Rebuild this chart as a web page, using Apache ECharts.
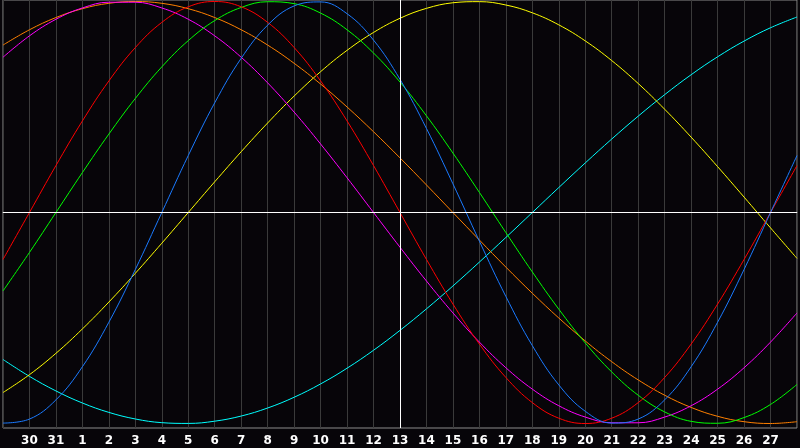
<!DOCTYPE html>
<html>
<head>
<meta charset="utf-8">
<script src="https://cdn.jsdelivr.net/npm/echarts@6/dist/echarts.min.js"></script>
<style>
html,body{margin:0;padding:0;background:#070509;}
#chart{width:800px;height:448px;}
</style>
</head>
<body>
<div id="chart"></div>
<script>
var dayLabels = ["29","30","31","1","2","3","4","5","6","7","8","9","10","11","12","13","14","15","16","17","18","19","20","21","22","23","24","25","26","27","28"];
var todayIndex = 15;

var physical = [-0.998,-0.979,-0.888,-0.731,-0.520,-0.270,0,0.270,0.520,0.731,0.888,0.979,0.998,0.942,0.817,0.631,0.398,0.136,-0.136,-0.398,-0.631,-0.817,-0.942,-0.998,-0.979,-0.888,-0.731,-0.520,-0.270,0,0.270];
var emotional = [-0.2225,0,0.2225,0.4339,0.6235,0.7818,0.9010,0.9749,1,0.9749,0.9010,0.7818,0.6235,0.4339,0.2225,0,-0.2225,-0.4339,-0.6235,-0.7818,-0.9010,-0.9749,-1,-0.9749,-0.9010,-0.7818,-0.6235,-0.4339,-0.2225,0,0.2225];
var intellectual = [-0.3717,-0.1893,0,0.1893,0.3717,0.5406,0.6901,0.8146,0.9096,0.9718,0.9989,0.9898,0.9450,0.8660,0.7557,0.6182,0.4582,0.2817,0.0951,-0.0951,-0.2817,-0.4582,-0.6182,-0.7557,-0.8660,-0.9450,-0.9898,-0.9989,-0.9718,-0.9096,-0.8146];
var intuitive = [0.7357,0.8372,0.9158,0.9694,0.9966,0.9966,0.9694,0.9158,0.8372,0.7357,0.6142,0.4759,0.3247,0.1646,0,-0.1646,-0.3247,-0.4759,-0.6142,-0.7357,-0.8372,-0.9158,-0.9694,-0.9966,-0.9966,-0.9694,-0.9158,-0.8372,-0.7357,-0.6142,-0.4759];
var aesthetic = [-0.8533,-0.7686,-0.6674,-0.5518,-0.4244,-0.2881,-0.1456,0,0.1456,0.2881,0.4244,0.5518,0.6674,0.7686,0.8533,0.9204,0.9675,0.9940,0.9993,0.9834,0.9464,0.8893,0.8133,0.7200,0.6113,0.4894,0.3572,0.2174,0.0730,-0.0730,-0.2174];
var awareness = [0.7934,0.8660,0.9239,0.9659,0.9914,1,0.9914,0.9659,0.9239,0.8660,0.7934,0.7071,0.6088,0.5,0.3827,0.2588,0.1305,0,-0.1305,-0.2588,-0.3827,-0.5,-0.6088,-0.7071,-0.7934,-0.8660,-0.9239,-0.9659,-0.9914,-1,-0.9914];
var spiritual = [-0.6965,-0.7766,-0.8456,-0.9028,-0.9473,-0.9786,-0.9960,-0.9996,-0.9890,-0.9646,-0.9265,-0.8756,-0.8124,-0.7379,-0.6529,-0.5585,-0.4566,-0.3482,-0.2349,-0.1183,0,0.1183,0.2349,0.3482,0.4566,0.5585,0.6529,0.7379,0.8124,0.8756,0.9265];

var seriesDefs = [
  {name:"Spiritual", data:spiritual, color:"#00ffff"},
  {name:"Aesthetic", data:aesthetic, color:"#ffff00"},
  {name:"Awareness", data:awareness, color:"#ff8000"},
  {name:"Intuitive", data:intuitive, color:"#ff00ff"},
  {name:"Intellectual", data:intellectual, color:"#00ff00"},
  {name:"Emotional", data:emotional, color:"#ff0000"},
  {name:"Physical", data:physical, color:"#1a7aff"}
];

function toPairs(arr){ return arr.map(function(v,i){ return [i,v]; }); }

var series = seriesDefs.map(function(s){
  return {
    name:s.name, type:"line", data:toPairs(s.data), smooth:0.4,
    showSymbol:false, silent:true, animation:false,
    lineStyle:{color:s.color, width:1}, itemStyle:{color:s.color}
  };
});
series.push({
  type:"line", data:[], silent:true, animation:false,
  markLine:{
    silent:true, symbol:["none","none"], label:{show:false}, animation:false,
    lineStyle:{color:"#ffffff", width:1, type:"solid"},
    data:[{xAxis:todayIndex},{yAxis:0}]
  }
});

var chart = echarts.init(document.getElementById("chart"), null, {renderer:"canvas"});
chart.setOption({
  backgroundColor:"#070509",
  animation:false,
  grid:{left:0, right:1, top:0, bottom:20, show:true, borderColor:"#8c8c8c", borderWidth:1, backgroundColor:"transparent"},
  xAxis:{
    type:"value", min:0, max:30, interval:1,
    axisLine:{show:true, lineStyle:{color:"#a0a0a0", width:1}},
    axisTick:{show:false},
    splitLine:{show:true, lineStyle:{color:"#3a3a3a", width:1}},
    axisLabel:{
      color:"#ffffff", fontWeight:"bold", fontSize:12, fontFamily:"DejaVu Sans", margin:7,
      formatter:function(v){ return (v>0 && v<30) ? dayLabels[v] : ""; }
    }
  },
  yAxis:{
    type:"value", min:-1.0213, max:1.0071,
    axisLine:{show:false}, axisTick:{show:false}, axisLabel:{show:false}, splitLine:{show:false}
  },
  series:series
});
</script>
</body>
</html>
